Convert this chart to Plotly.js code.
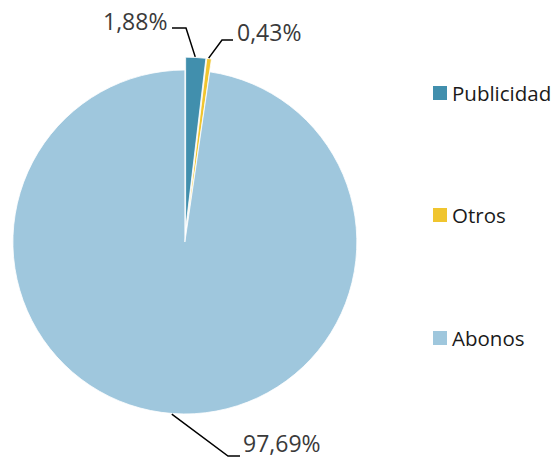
<!DOCTYPE html>
<html>
<head>
<meta charset="utf-8">
<script src="https://cdn.plot.ly/plotly-3.0.1.min.js"></script>
<style>html,body{margin:0;padding:0;background:#fff;}#chart{width:555px;height:460px;}</style>
</head>
<body>
<div id="chart"></div>
<script>
// ---- data ----
var categories = ["Publicidad", "Otros", "Abonos"];
var values = [1.88, 0.43, 97.69];
var valueLabels = ["1,88%", "0,43%", "97,69%"];

// ---- style / layout ----
var colors = ["#418fad", "#f0c52f", "#9fc7dd"];
var pulls = [0.075, 0.075, 0];
var W = 555, H = 460;
var CX = 184.3, CY = 242, R = 172.5;          // pie geometry in px
function px(x) { return x / W; }
function py(y) { return 1 - y / H; }

// label leader geometry (elbow, horizontal end, text pos, anchor)
var leaders = [
  {ex: 186, ey: 28, hx: 172, tx: 168, ty: 21, anchor: "right"},
  {ex: 222, ey: 40, hx: 233, tx: 236, ty: 32, anchor: "left"},
  {ex: 228, ey: 456, hx: 240, tx: 242, ty: 443, anchor: "left"}
];

var total = values.reduce(function (a, b) { return a + b; }, 0);
var shapes = [], annotations = [];
var cum = 0;
values.forEach(function (v, i) {
  var mid = (cum + v / 2) / total * 2 * Math.PI;   // clockwise from 12 o'clock
  cum += v;
  var rr = R * (1 + pulls[i]);
  var sx = CX + rr * Math.sin(mid);
  var sy = CY - rr * Math.cos(mid);
  var L = leaders[i];
  shapes.push({
    type: "path", xref: "paper", yref: "paper",
    path: "M " + px(sx) + "," + py(sy) + " L " + px(L.ex) + "," + py(L.ey) + " L " + px(L.hx) + "," + py(L.ey),
    line: {color: "#000000", width: 1.5}
  });
  annotations.push({
    xref: "paper", yref: "paper", x: px(L.tx), y: py(L.ty),
    xanchor: L.anchor, yanchor: "middle", showarrow: false,
    text: valueLabels[i], borderpad: 0,
    font: {family: "Open Sans, Lato, sans-serif", size: 23, color: "#3a3a3a"}
  });
});

// manual legend (widely spaced like the reference)
var legendY = [93, 215, 338];
categories.forEach(function (c, i) {
  shapes.push({
    type: "rect", xref: "paper", yref: "paper",
    x0: px(433), x1: px(447), y0: py(legendY[i] - 7), y1: py(legendY[i] + 7),
    fillcolor: colors[i], line: {width: 0}
  });
  annotations.push({
    xref: "paper", yref: "paper", x: px(450), y: py(legendY[i]),
    xanchor: "left", yanchor: "middle", showarrow: false,
    text: c,
    font: {family: "Open Sans, Lato, sans-serif", size: 20.5, color: "#1a1a1a"}
  });
});

var R0 = R * (1 + Math.max.apply(null, pulls));
var trace = {
  type: "pie",
  labels: categories,
  values: values,
  sort: false,
  direction: "clockwise",
  rotation: 0,
  pull: pulls,
  textinfo: "none",
  hoverinfo: "none",
  automargin: false,
  marker: {colors: colors, line: {color: "#ffffff", width: 0.8}},
  domain: {x: [px(CX - R0), px(CX + R0)], y: [py(CY + R0 + 20), py(CY - R0 - 20)]},
  showlegend: false
};

var layout = {
  width: W, height: H,
  margin: {l: 0, r: 0, t: 0, b: 0},
  paper_bgcolor: "#ffffff",
  showlegend: false,
  shapes: shapes,
  annotations: annotations
};

Plotly.newPlot("chart", [trace], layout, {displayModeBar: false, staticPlot: true});
</script>
</body>
</html>
